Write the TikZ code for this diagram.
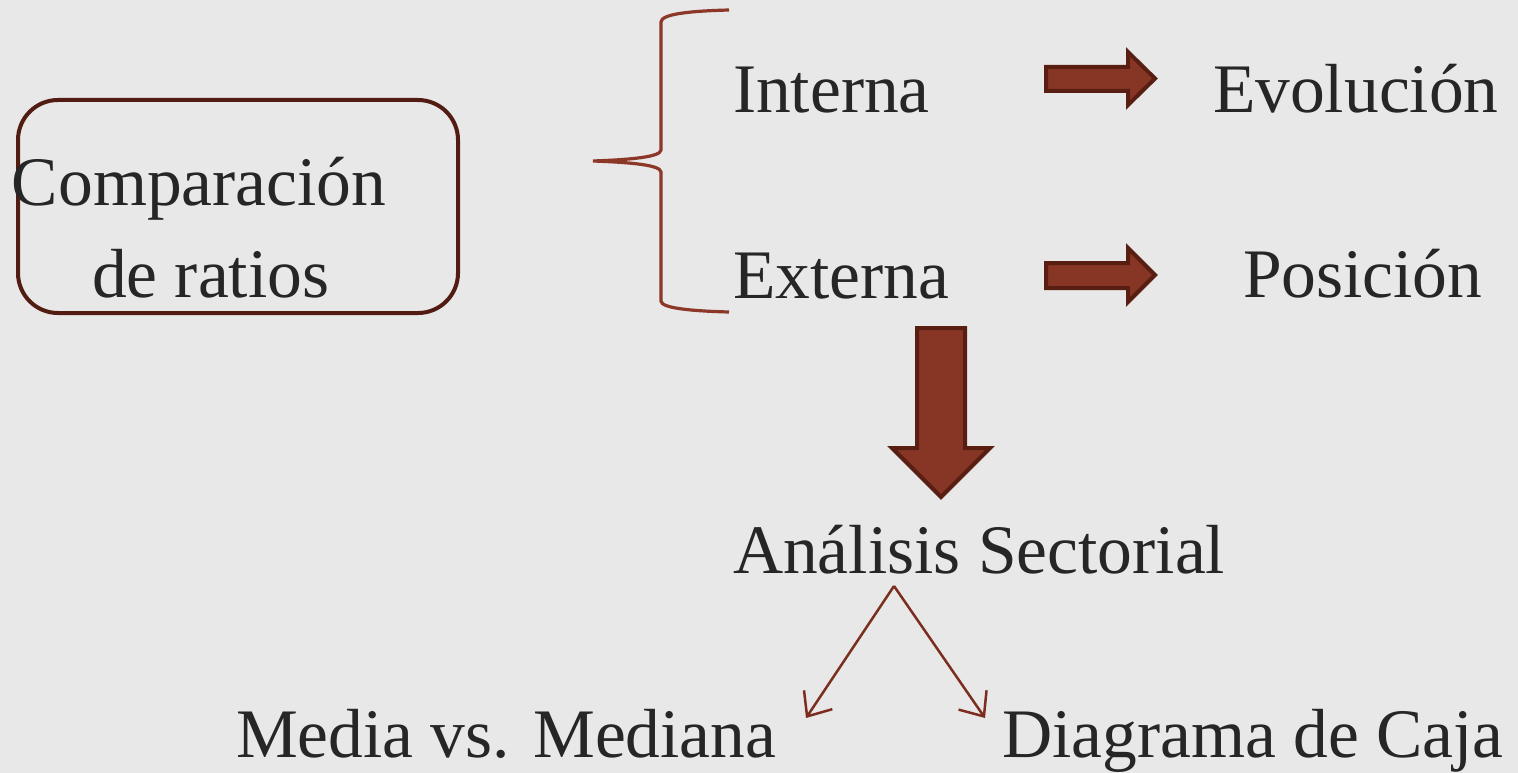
\documentclass[tikz,border=0pt]{standalone}
\usepackage{fontspec}
\setmainfont{Liberation Serif}
\usetikzlibrary{arrows.meta}
\definecolor{bgpaper}{RGB}{232,232,232}
\definecolor{inktext}{RGB}{38,38,38}
\definecolor{boxline}{RGB}{82,28,18}
\definecolor{bracecol}{RGB}{140,55,40}
\definecolor{blockfill}{RGB}{135,54,38}
\definecolor{blockline}{RGB}{88,30,18}
\definecolor{thinarrow}{RGB}{125,45,32}
\tikzset{
  lbl/.style={anchor=base west, inner sep=0pt, outer sep=0pt, text=inktext,
              font=\fontsize{69.5}{84}\selectfont},
  block/.style={fill=blockfill, draw=blockline, line width=4pt, line join=miter},
  thin/.style={draw=thinarrow, line width=2.5pt,
               -{Straight Barb[length=20pt,width=34pt,line width=2.5pt]}},
}
\begin{document}
\begin{tikzpicture}[x=1pt,y=-1pt]
  % page
  \fill[bgpaper] (0,0) rectangle (1518,773);
  \useasboundingbox (0,0) rectangle (1518,773);

  % rounded frame with the title
  \node[draw=boxline, line width=4pt, rounded corners=40pt, minimum width=440pt,
        minimum height=213pt, inner sep=0pt] (cmp) at (238,206.5) {};
  \node[lbl] (cmpA) at (12,205) {Comparación};
  \node[lbl] (cmpB) at (92,297) {de ratios};

  % curly brace
  \draw[bracecol, line width=3.2pt]
    (729,10) .. controls (690,11) and (661,14) .. (661,22)
    -- (661,150) .. controls (661,158) and (620,160) .. (593,161)
    .. controls (620,162) and (661,164) .. (661,172)
    -- (661,301) .. controls (661,308) and (690,311) .. (729,312);

  % right-hand items
  \node[lbl] (int) at (733,113) {Interna};
  \node[lbl] (ext) at (733,298) {Externa};
  \node[lbl] (evo) at (1213,113) {Evolución};
  \node[lbl] (pos) at (1243,297) {Posición};

  % block arrows
  \draw[block] (1046,67) -- (1128,67) -- (1128,52) -- (1155,78.5) -- (1128,105)
               -- (1128,91) -- (1046,91) -- cycle;
  \draw[block] (1046,263) -- (1128,263) -- (1128,248) -- (1155,275) -- (1128,302)
               -- (1128,288) -- (1046,288) -- cycle;
  \draw[block] (917,328) -- (965,328) -- (965,448) -- (990,448) -- (941,497)
               -- (892,448) -- (917,448) -- cycle;

  % sector analysis
  \node[lbl] (sec) at (733,573) {Análisis Sectorial};
  \node[lbl] (med) at (236,757) {Media vs. Mediana};
  \node[lbl] (caja) at (1002,757) {Diagrama de Caja};

  \coordinate (split) at (894,586);
  \coordinate (medTip) at (806,718);
  \coordinate (cajaTip) at (985,718);
  \draw[thin] (split) -- (medTip);
  \draw[thin] (split) -- (cajaTip);
\end{tikzpicture}
\end{document}
